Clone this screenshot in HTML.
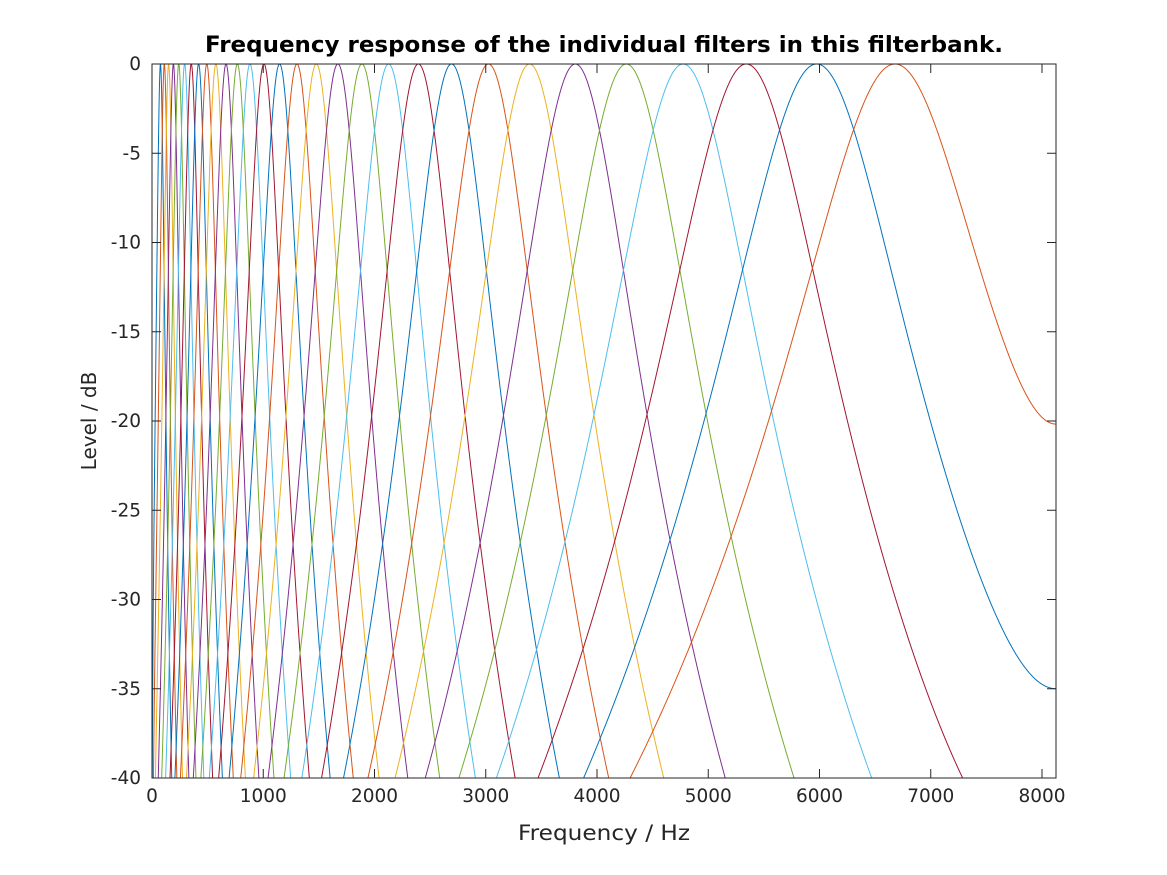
<!DOCTYPE html>
<html><head><meta charset="utf-8"><style>
html,body{margin:0;padding:0;background:#fff;width:1167px;height:875px;overflow:hidden;}
svg{display:block;position:absolute;left:0;top:0;font-family:"DejaVu Sans","Liberation Sans",sans-serif;}
</style></head><body>
<svg id="s" width="1167" height="875" xmlns="http://www.w3.org/2000/svg">
<rect width="1167" height="875" fill="#fff"/>
<defs><clipPath id="c"><rect x="152" y="64" width="904" height="714"/></clipPath></defs>
<g id="curves" clip-path="url(#c)" fill="none" stroke-width="1"></g>
<rect x="152" y="64" width="904" height="714" fill="none" stroke="#262626" stroke-width="1"/>
<g id="ticks" stroke="#262626" stroke-width="1"></g>
<g id="labels" fill="#262626" font-size="18.5"></g>
<text x="604" y="52" text-anchor="middle" font-weight="bold" font-size="22.5" textLength="798" lengthAdjust="spacingAndGlyphs" fill="#000">Frequency response of the individual filters in this filterbank.</text>
<text x="604" y="840" text-anchor="middle" font-size="21" textLength="172" lengthAdjust="spacingAndGlyphs" fill="#262626">Frequency / Hz</text>
<text transform="translate(96,421) rotate(-90)" text-anchor="middle" font-size="20" fill="#262626">Level / dB</text>
</svg>
<script>
(function(){
var NS="http://www.w3.org/2000/svg";
var L=152,T=64,R=1056,B=778,pxHz=0.11125,fs=16252,pxdB=(B-T)/40;
function X(f){return L+f*pxHz;}function Y(d){return T-d*pxdB;}
var tk=document.getElementById('ticks'),lb=document.getElementById('labels');
function el(p,n,a,t){var e=document.createElementNS(NS,n);for(var k in a)e.setAttribute(k,a[k]);if(t!=null)e.textContent=t;p.appendChild(e);return e;}
for(var f=0;f<=8000;f+=1000){var x=X(f);
el(tk,'line',{x1:x,y1:B,x2:x,y2:B-9});el(tk,'line',{x1:x,y1:T,x2:x,y2:T+9});
el(lb,'text',{x:x,y:B+24,'text-anchor':'middle'},String(f));}
for(var d=0;d>=-40;d-=5){var y=Y(d);
el(tk,'line',{x1:L,y1:y,x2:L+9,y2:y});el(tk,'line',{x1:R,y1:y,x2:R-9,y2:y});
el(lb,'text',{x:141,y:y+6,'text-anchor':'end'},String(d));}
var cols=["#0072BD","#D95319","#EDB120","#7E2F8E","#77AC30","#4DBEEE","#A2142F"];
var g=document.getElementById('curves');
var top=21.4*Math.log10(1+0.00437*6680);
var N=30,ag=Math.PI*0.3125;
for(var k=0;k<N;k++){
var e=top-(N-1-k);var fc=(Math.pow(10,e/21.4)-1)/0.00437;
var erb=24.7*(4.37*fc/1000+1);var b=erb/ag;
var lam=Math.exp(-2*Math.PI*b/fs),beta=2*Math.PI*fc/fs;
var ar=lam*Math.cos(beta),ai=lam*Math.sin(beta);
function H(w){
var cr=Math.cos(w),ci=-Math.sin(w);
var dr=1-(ar*cr-ai*ci),di=-(ar*ci+ai*cr);
var r2=dr*dr-di*di,i2=2*dr*di;var r4=r2*r2-i2*i2,i4=2*r2*i2;
var m=r4*r4+i4*i4;return [r4/m,-i4/m];}
function G(f){var w=2*Math.PI*f/fs;var a=H(w),c=H(-w);
var re=(a[0]+c[0])/2,im=(a[1]-c[1])/2;return Math.sqrt(re*re+im*im);}
var pk=0,vals=[];
for(var fq=0;fq<=8130;fq+=2){var v=G(fq);vals.push([fq,v]);if(v>pk)pk=v;}
var dstr="";
for(var i=0;i<vals.length;i++){var db=20*Math.log10(vals[i][1]/pk);if(db<-60)db=-60;
dstr+=(i?"L":"M")+X(vals[i][0]).toFixed(2)+" "+Y(db).toFixed(2);}
el(g,'path',{d:dstr,stroke:cols[k%7]});
}
})();
</script>
</body></html>
